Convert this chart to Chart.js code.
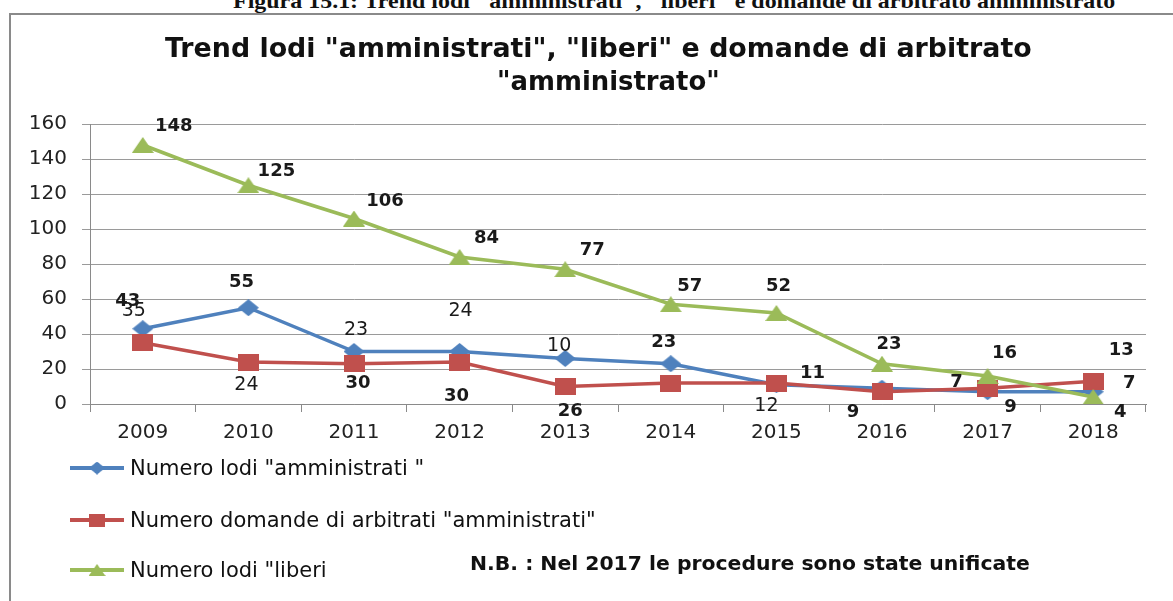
<!DOCTYPE html>
<html>
<head>
<meta charset="utf-8">
<script src="https://cdn.jsdelivr.net/npm/chart.js@4.4.1/dist/chart.umd.min.js"></script>
<style>
  html, body { margin: 0; padding: 0; background: #fff; }
  #wrap { position: relative; width: 1173px; height: 601px; overflow: hidden; background: #fff; }
  #frame { position: absolute; left: 9px; top: 13px; width: 1200px; height: 620px;
           border: 2px solid #8a8a8a; box-sizing: border-box; }
  canvas#chart { position: absolute; left: 0; top: 0; }
  .txt { position: absolute; white-space: nowrap; transform-origin: 0 50%; color: #111; }
  #caption { font-family: "Liberation Serif", serif; font-weight: bold; font-size: 22px; line-height: 22px; }
  .title { font-family: "DejaVu Sans", sans-serif; font-weight: bold; font-size: 26px; line-height: 30px; }
  .leg { font-family: "DejaVu Sans", sans-serif; font-size: 21px; line-height: 24px; }
  #note { font-family: "DejaVu Sans", sans-serif; font-weight: bold; font-size: 20px; line-height: 24px; }
  .legmark { position: absolute; }
</style>
</head>
<body>
<div id="wrap">
  <div id="caption" class="txt">Figura 15.1: Trend lodi "amministrati", "liberi" e domande di arbitrato amministrato</div>
  <div id="frame"></div>
  <canvas id="chart" width="1173" height="601"></canvas>
  <div id="t1" class="txt title">Trend lodi "amministrati", "liberi" e domande di arbitrato</div>
  <div id="t2" class="txt title">"amministrato"</div>
  <div id="note" class="txt">N.B. : Nel 2017 le procedure sono state unificate</div>
</div>
<script>
// ── data ─────────────────────────────────────────────
const YEARS = ['2009','2010','2011','2012','2013','2014','2015','2016','2017','2018'];

const LODI_AMMINISTRATI    = [43, 55, 30, 30, 26, 23, 11, 9, 7, 7];
const DOMANDE_AMMINISTRATI = [35, 24, 23, 24, 10, 12, 12, 7, 9, 13];
const LODI_LIBERI          = [148, 125, 106, 84, 77, 57, 52, 23, 16, 4];

const Y_TICKS = { min: 0, max: 160, step: 20 };

const SERIES_NAMES = [
    'Numero lodi "amministrati "',
    'Numero domande di arbitrati "amministrati"',
    'Numero lodi "liberi'
];

// label placement (offset from the point, px) — null = label not shown
const LABEL_OFFSETS = {
    blue : [[-15,-27],[-7,-25],[4,32],[-3,45],[5,53],[-7,-21],[36,-11],[-29,24],[-31,-9],[36,-8]],
    red  : [[-9,-32],[-2,23],[2,-34],[1,-51],[-6,-40],null,[-10,23],null,[23,19],[28,-31]],
    green: [[31,-19],[28,-14],[31,-17],[27,-19],[27,-19],[19,-18],[2,-27],[7,-19],[17,-23],[27,15]]
};
const LABEL_BOLD = {
    blue : YEARS.map(() => true),
    red  : YEARS.map((y, i) => i >= 7),
    green: YEARS.map(() => true)
};

const COLORS = { blue: '#4F81BD', red: '#C0504D', green: '#9BBB59' };

// ── markers as small canvases (Excel-like, slightly wide) ──
function marker(shape, w, h, col) {
    const c = document.createElement('canvas');
    c.width = w; c.height = h;
    const g = c.getContext('2d');
    g.fillStyle = col;
    g.beginPath();
    if (shape === 'diamond') {
        g.moveTo(w/2, 0); g.lineTo(w, h/2); g.lineTo(w/2, h); g.lineTo(0, h/2);
    } else if (shape === 'square') {
        g.rect(0, 0, w, h);
    } else {
        g.moveTo(w/2, 0); g.lineTo(w, h); g.lineTo(0, h);
    }
    g.closePath();
    g.fill();
    return c;
}

const MARKERS = {
    blue : marker('diamond', 21, 17, COLORS.blue),
    red  : marker('square', 21, 17, COLORS.red),
    green: marker('triangle', 22, 16, COLORS.green)
};

// ── data labels plugin ───────────────────────────────
const dataLabels = {
    id: 'dataLabels',
    afterDatasetsDraw(chart) {
        const ctx = chart.ctx;
        chart.data.datasets.forEach((ds, di) => {
            const meta = chart.getDatasetMeta(di);
            const key = ds.key;
            meta.data.forEach((pt, i) => {
                const off = LABEL_OFFSETS[key][i];
                if (!off) return;
                ctx.save();
                ctx.font = (LABEL_BOLD[key][i] ? 'bold 18px' : '19px') + ' "DejaVu Sans", sans-serif';
                ctx.fillStyle = '#1a1a1a';
                ctx.textAlign = 'center';
                ctx.textBaseline = 'middle';
                ctx.fillText(String(ds.data[i]), pt.x + off[0], pt.y + off[1]);
                ctx.restore();
            });
        });
    }
};

function line(key, label, data, order) {
    return {
        key, label, data, order,
        borderColor     : COLORS[key],
        backgroundColor : COLORS[key],
        borderWidth     : 3.5,
        pointStyle      : MARKERS[key],
        pointRadius     : 10,
        pointHoverRadius: 10,
        tension         : 0,
        fill            : false
    };
}

const chart = new Chart(document.getElementById('chart'), {
    type: 'line',
    data: {
        labels: YEARS,
        datasets: [
            line('blue',  SERIES_NAMES[0], LODI_AMMINISTRATI, 2),
            line('red',   SERIES_NAMES[1], DOMANDE_AMMINISTRATI, 1),
            line('green', SERIES_NAMES[2], LODI_LIBERI, 0)
        ]
    },
    options: {
        responsive: false,
        animation : false,
        devicePixelRatio: 1,
        layout: { padding: { left: 0, top: 124, right: 27, bottom: 0 } },
        plugins: {
            legend : { display: false },
            tooltip: { enabled: false },
            title  : { display: false }
        },
        scales: {
            x: {
                offset: true,
                grid  : { drawOnChartArea: false, offset: true, tickLength: 8, color: '#8a8a8a' },
                border: { display: true, color: '#8a8a8a', width: 1 },
                ticks : { color: '#222', padding: 9, font: { family: '"DejaVu Sans", sans-serif', size: 20 } },
                afterFit: s => { s.height = 197; }
            },
            y: {
                min: Y_TICKS.min, max: Y_TICKS.max,
                grid  : { color: '#9a9a9a', tickLength: 8, lineWidth: 1 },
                border: { display: true, color: '#8a8a8a', width: 1 },
                ticks : { stepSize: Y_TICKS.step, color: '#222', padding: 15,
                          font: { family: '"DejaVu Sans", sans-serif', size: 20 } },
                afterFit: s => { s.width = 90; }
            }
        }
    },
    plugins: [dataLabels]
});

// ── text placement, fitted to widths of the original ──
function place(id, left, centerY, width) {
    const el = document.getElementById(id);
    const h = el.offsetHeight;
    el.style.left = left + 'px';
    el.style.top = (centerY - h / 2) + 'px';
    if (width) el.style.transform = 'scaleX(' + (width / el.offsetWidth) + ')';
}
place('caption', 233, 1, 882);
place('t1', 165, 48, 867);
place('t2', 497, 81, 223);
place('note', 470, 563, 560);

// ── legend (vertical, bottom left) ──
const wrap = document.getElementById('wrap');
const LEG_ROWS = [468, 520, 570];
chart.data.datasets.forEach((ds, i) => {
    const c = document.createElement('canvas');
    c.width = 56; c.height = 20;
    c.className = 'legmark';
    c.style.left = '69px';
    c.style.top = (LEG_ROWS[i] - 10) + 'px';
    const g = c.getContext('2d');
    g.strokeStyle = ds.borderColor;
    g.lineWidth = 4;
    g.beginPath(); g.moveTo(1, 10); g.lineTo(55, 10); g.stroke();
    const m = MARKERS[ds.key];
    const sw = Math.round(m.width * 0.75), sh = Math.round(m.height * 0.75);
    g.drawImage(m, 28 - sw / 2, 10 - sh / 2, sw, sh);
    wrap.appendChild(c);

    const t = document.createElement('div');
    t.className = 'txt leg';
    t.id = 'leg' + i;
    t.textContent = ds.label;
    wrap.appendChild(t);
    place(t.id, 130, LEG_ROWS[i]);
});
</script>
</body>
</html>
